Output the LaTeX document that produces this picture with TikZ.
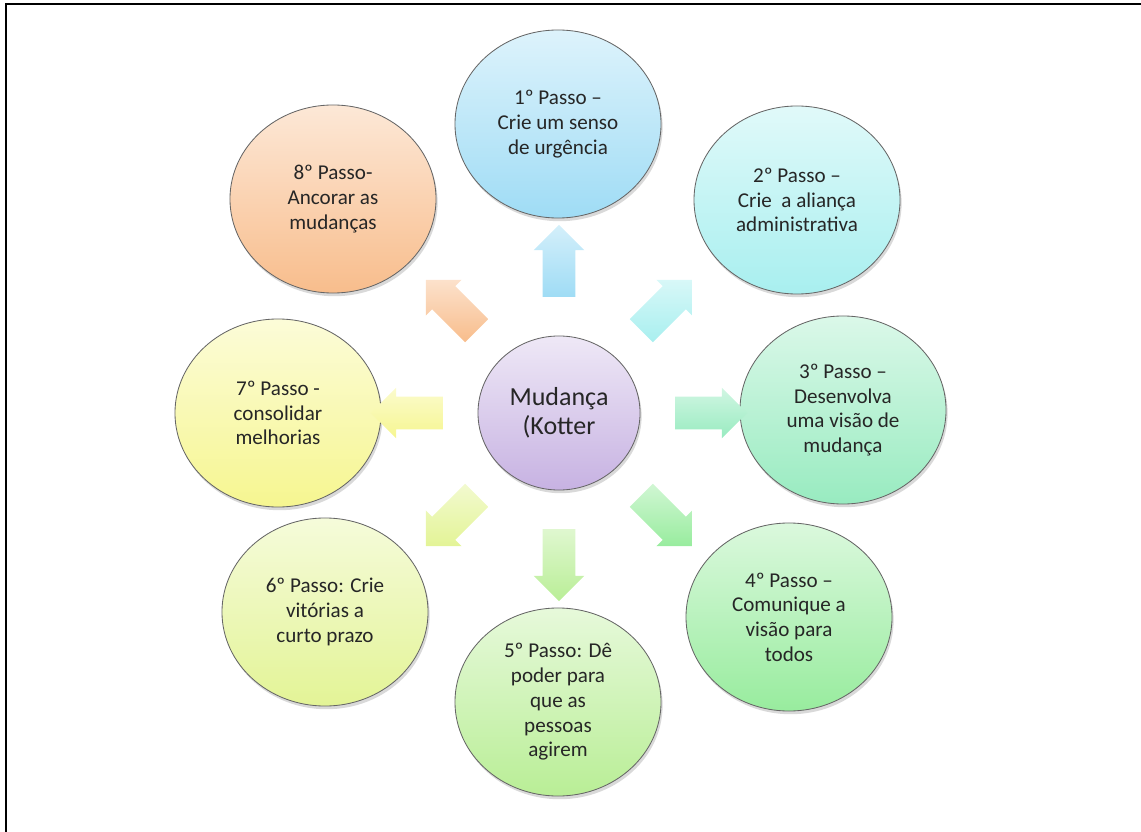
\documentclass[tikz,border=0pt]{standalone}
\usepackage{fontspec}
\setmainfont{Carlito}
\usetikzlibrary{shapes.geometric,shapes.arrows,shadows}

\definecolor{azul}{HTML}{9FDCF5}
\definecolor{ciano}{HTML}{A8EFEF}
\definecolor{menta}{HTML}{98EBC0}
\definecolor{verde}{HTML}{98EC9E}
\definecolor{lima}{HTML}{B9EE96}
\definecolor{oliva}{HTML}{E3F496}
\definecolor{amarelo}{HTML}{F6F690}
\definecolor{laranja}{HTML}{F8BD8C}
\definecolor{lilas}{HTML}{C7B2E2}

\begin{document}
\begin{tikzpicture}[x=0.025cm,y=-0.025cm]

\tikzstyle{ci} = [ellipse, minimum width=5.15cm, minimum height=4.7cm, inner sep=0pt, align=center, draw=black!60, line width=0.6pt, text=black!85, font=\fontsize{15}{17.6}\selectfont, drop shadow={fill=black, opacity=0.15, shadow xshift=0.04cm, shadow yshift=-0.08cm}]
\tikzstyle{mid} = [ci, minimum width=4.05cm, minimum height=3.85cm, font=\fontsize{18.5}{20.8}\selectfont]
\tikzstyle{ar} = [single arrow, minimum height=1.8cm, inner xsep=0pt, inner ysep=0.4cm, single arrow head extend=0.225cm]

\useasboundingbox (0,0) rectangle (1141,832);
\draw[line width=1.4pt] (6,832) -- (6,4) -- (1141,4);

\node (mud) [mid, top color=lilas!30!white, bottom color=lilas] at (559,413) {Mudança\\(Kotter};

\node (p1) [ci, top color=azul!35!white, bottom color=azul] at (558,124) {1º Passo –\\Crie um senso\\de urgência};
\node (p2) [ci, top color=ciano!35!white, bottom color=ciano] at (797,200) {2º Passo –\\Crie~ a aliança\\administrativa};
\node (p3) [ci, top color=menta!35!white, bottom color=menta] at (843,410) {3º Passo –\\Desenvolva\\uma visão de\\mudança};
\node (p4) [ci, top color=verde!35!white, bottom color=verde] at (789,617) {4º Passo –\\Comunique a\\visão para\\todos};
\node (p5) [ci, top color=lima!35!white, bottom color=lima] at (558,702) {5º Passo: Dê\\poder para\\que as\\pessoas\\agirem};
\node (p6) [ci, top color=oliva!35!white, bottom color=oliva] at (325,612) {6º Passo: Crie\\vitórias a\\curto prazo};
\node (p7) [ci, top color=amarelo!35!white, bottom color=amarelo] at (278,413) {7º Passo -\\consolidar\\melhorias};
\node (p8) [ci, top color=laranja!35!white, bottom color=laranja] at (333,199) {8º Passo-\\Ancorar as\\mudanças};

\node (a1) [ar, rotate=90, top color=azul!45!white, bottom color=azul] at (559,269) {};
\node (a2) [ar, rotate=45, top color=ciano!45!white, bottom color=ciano] at (661,311) {};
\node (a3) [ar, rotate=0, top color=menta!45!white, bottom color=menta] at (703,413) {};
\node (a4) [ar, rotate=-45, top color=verde!45!white, bottom color=verde] at (661,515) {};
\node (a5) [ar, rotate=-90, top color=lima!45!white, bottom color=lima] at (559,557) {};
\node (a6) [ar, rotate=-135, top color=oliva!45!white, bottom color=oliva] at (457,515) {};
\node (a7) [ar, rotate=180, top color=amarelo!45!white, bottom color=amarelo] at (415,413) {};
\node (a8) [ar, rotate=135, top color=laranja!45!white, bottom color=laranja] at (457,311) {};

\end{tikzpicture}
\end{document}
